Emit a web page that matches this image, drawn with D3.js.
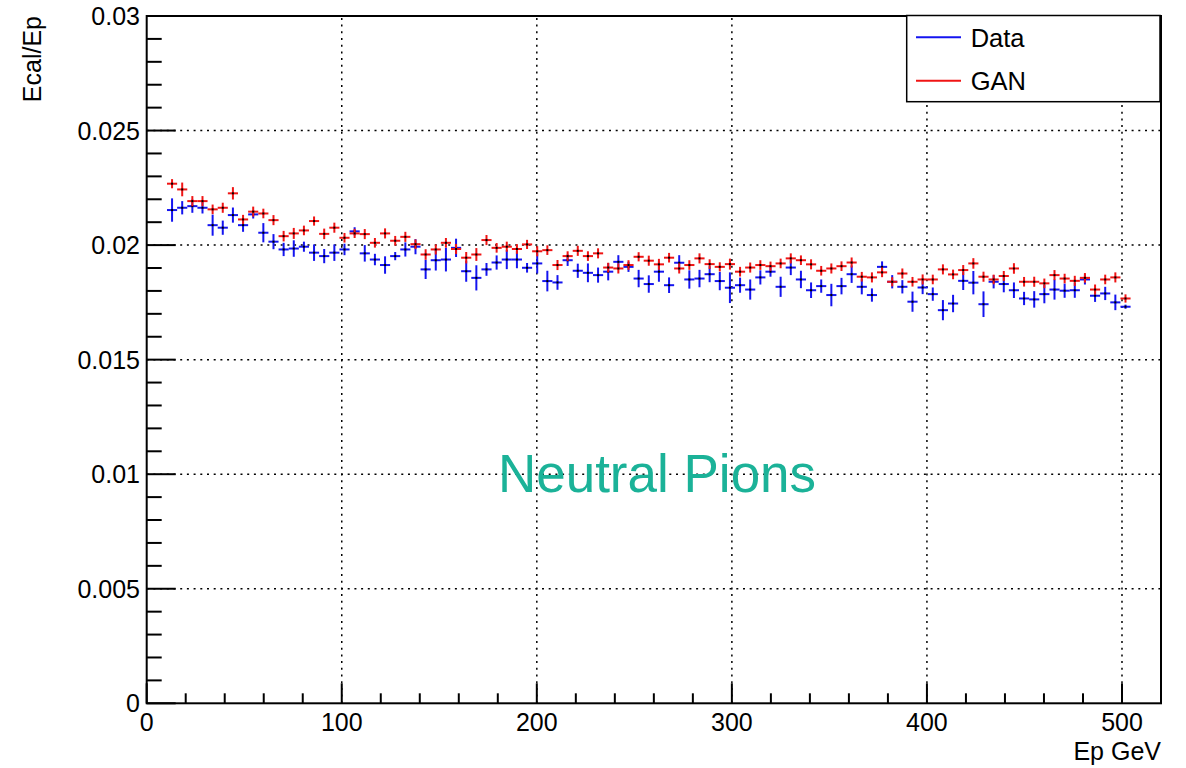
<!DOCTYPE html>
<html>
<head>
<meta charset="utf-8">
<script src="https://cdn.jsdelivr.net/npm/d3@7"></script>
<style>
html,body{margin:0;padding:0;background:#fff;}
svg{display:block;font-family:"Liberation Sans",Arial,Helvetica,sans-serif;}
</style>
</head>
<body>
<svg id="chart" width="1186" height="768"></svg>
<script>
// Bin centres (Ep, GeV)
const epValues = [13.0,18.2,23.4,28.6,33.8,39.0,44.2,49.4,54.6,59.8,
65.0,70.2,75.4,80.6,85.8,91.0,96.2,101.4,106.6,111.8,
117.0,122.2,127.4,132.6,137.8,143.0,148.2,153.4,158.6,163.8,
169.0,174.2,179.4,184.6,189.8,195.0,200.2,205.4,210.6,215.8,
221.0,226.2,231.4,236.6,241.8,247.0,252.2,257.4,262.6,267.8,
273.0,278.2,283.4,288.6,293.8,299.0,304.2,309.4,314.6,319.8,
325.0,330.2,335.4,340.6,345.8,351.0,356.2,361.4,366.6,371.8,
377.0,382.2,387.4,392.6,397.8,403.0,408.2,413.4,418.6,423.8,
429.0,434.2,439.4,444.6,449.8,455.0,460.2,465.4,470.6,475.8,
481.0,486.2,491.4,496.6,501.8];
const binHalfWidth = 2.6;

// Data (blue)
const dataValues = [0.02153,0.02163,0.02170,0.02163,0.02087,0.02076,0.02131,0.02087,0.02134,0.02054,
0.02015,0.01981,0.01985,0.01993,0.01967,0.01952,0.01967,0.01981,0.02060,0.01964,
0.01937,0.01913,0.01952,0.01981,0.01993,0.01894,0.01934,0.01937,0.01988,0.01886,
0.01857,0.01894,0.01924,0.01937,0.01937,0.01901,0.01920,0.01843,0.01837,0.01934,
0.01888,0.01879,0.01869,0.01884,0.01927,0.01905,0.01854,0.01830,0.01884,0.01825,
0.01923,0.01850,0.01854,0.01873,0.01843,0.01814,0.01825,0.01806,0.01859,0.01884,
0.01818,0.01902,0.01850,0.01803,0.01821,0.01782,0.01821,0.01873,0.01818,0.01782,
0.01905,0.01840,0.01818,0.01753,0.01815,0.01786,0.01716,0.01745,0.01844,0.01836,
0.01742,0.01840,0.01830,0.01803,0.01767,0.01763,0.01786,0.01806,0.01801,0.01803,
0.01850,0.01779,0.01789,0.01750,0.01731];
const dataErrors = [0.00051,0.00029,0.00029,0.00025,0.00046,0.00031,0.00033,0.00029,0.00018,0.00042,
0.00033,0.00029,0.00036,0.00022,0.00036,0.00031,0.00036,0.00025,0.00018,0.00036,
0.00025,0.00038,0.00018,0.00031,0.00033,0.00042,0.00045,0.00052,0.00040,0.00046,
0.00055,0.00028,0.00031,0.00042,0.00038,0.00021,0.00044,0.00045,0.00032,0.00025,
0.00031,0.00041,0.00033,0.00038,0.00029,0.00022,0.00038,0.00038,0.00044,0.00034,
0.00033,0.00040,0.00038,0.00035,0.00040,0.00067,0.00033,0.00044,0.00031,0.00022,
0.00044,0.00033,0.00038,0.00034,0.00029,0.00049,0.00036,0.00038,0.00033,0.00029,
0.00024,0.00029,0.00029,0.00044,0.00029,0.00029,0.00044,0.00038,0.00040,0.00051,
0.00056,0.00029,0.00036,0.00034,0.00029,0.00036,0.00040,0.00044,0.00031,0.00033,
0.00022,0.00027,0.00029,0.00034,0.00009];

// GAN (red)
const ganValues = [0.02268,0.02243,0.02192,0.02192,0.02156,0.02163,0.02226,0.02112,0.02146,0.02138,
0.02109,0.02039,0.02051,0.02064,0.02105,0.02049,0.02076,0.02032,0.02051,0.02048,
0.02010,0.02051,0.02019,0.02036,0.02004,0.01959,0.01981,0.02010,0.01983,0.01945,
0.01959,0.02022,0.01988,0.01993,0.01983,0.02003,0.01973,0.01978,0.01913,0.01952,
0.01975,0.01952,0.01964,0.01902,0.01898,0.01913,0.01949,0.01932,0.01916,0.01945,
0.01898,0.01913,0.01942,0.01917,0.01905,0.01917,0.01884,0.01902,0.01913,0.01908,
0.01920,0.01942,0.01934,0.01916,0.01888,0.01898,0.01908,0.01924,0.01862,0.01859,
0.01881,0.01840,0.01876,0.01840,0.01850,0.01850,0.01894,0.01872,0.01891,0.01920,
0.01862,0.01850,0.01865,0.01898,0.01840,0.01840,0.01833,0.01869,0.01854,0.01844,
0.01857,0.01806,0.01850,0.01859,0.01767];
const ganErrors = [0.00020,0.00030,0.00022,0.00022,0.00021,0.00022,0.00027,0.00020,0.00022,0.00021,
0.00022,0.00023,0.00024,0.00021,0.00020,0.00023,0.00022,0.00021,0.00020,0.00022,
0.00021,0.00022,0.00021,0.00022,0.00021,0.00023,0.00022,0.00021,0.00022,0.00025,
0.00028,0.00022,0.00021,0.00022,0.00021,0.00020,0.00022,0.00021,0.00022,0.00021,
0.00022,0.00021,0.00022,0.00021,0.00022,0.00021,0.00020,0.00022,0.00024,0.00021,
0.00022,0.00021,0.00022,0.00021,0.00020,0.00024,0.00021,0.00022,0.00021,0.00020,
0.00021,0.00022,0.00021,0.00022,0.00021,0.00022,0.00021,0.00022,0.00021,0.00022,
0.00021,0.00020,0.00022,0.00021,0.00022,0.00021,0.00022,0.00021,0.00022,0.00023,
0.00022,0.00021,0.00022,0.00023,0.00021,0.00022,0.00021,0.00022,0.00021,0.00022,
0.00021,0.00022,0.00021,0.00022,0.00018];

const xTickValues = [0,100,200,300,400,500];
const yTickValues = [0,0.005,0.01,0.015,0.02,0.025,0.03];
const yTickLabels = ["0","0.005","0.01","0.015","0.02","0.025","0.03"];
const seriesNames = ["Data","GAN"];
const seriesColors = ["#1414f0","#f01414"];
const xTitle = "Ep GeV";
const yTitle = "Ecal/Ep";
const annotation = "Neutral Pions";

const svg = d3.select("#chart");
const L = 146.7, R = 1161, T = 16, B = 703.3;
const x = d3.scaleLinear().domain([0,520]).range([L,R]);
const y = d3.scaleLinear().domain([0,0.03]).range([B,T]);

// grid
const grid = svg.append("g").attr("stroke","#000").attr("stroke-width",1.5).attr("stroke-dasharray","2,4.7");
grid.selectAll(".gx").data(xTickValues.filter(d=>d>0)).join("line")
  .attr("x1",d=>x(d)).attr("x2",d=>x(d)).attr("y1",B).attr("y2",T);
grid.selectAll(".gy").data(yTickValues.filter(d=>d>0 && d<0.03)).join("line")
  .attr("y1",d=>y(d)).attr("y2",d=>y(d)).attr("x1",L).attr("x2",R);

// axes
const xAxis = d3.axisBottom(x).tickValues(d3.range(0,521,20))
  .tickSize(0).tickFormat("");
const ax = svg.append("g").attr("transform",`translate(0,${B})`).call(xAxis);
ax.select(".domain").remove();
// x ticks (inward)
svg.append("g").selectAll("line").data(d3.range(0,521,20)).join("line")
  .attr("x1",d=>x(d)).attr("x2",d=>x(d)).attr("y1",B)
  .attr("y2",d=> d%100===0 ? B-20 : B-10)
  .attr("stroke","#000").attr("stroke-width",2);
svg.append("g").selectAll("text").data(xTickValues).join("text")
  .attr("x",d=>x(d)).attr("y",731).attr("text-anchor","middle")
  .attr("font-size",25).text(d=>d3.format("d")(d));

const yAxis = d3.axisLeft(y).tickValues(yTickValues).tickSize(0).tickFormat("");
const ay = svg.append("g").attr("transform",`translate(${L},0)`).call(yAxis);
ay.select(".domain").remove();
const yMinor = d3.range(0,31).map(i=>i*0.001);
svg.append("g").selectAll("line").data(yMinor).join("line")
  .attr("y1",d=>y(d)).attr("y2",d=>y(d)).attr("x1",L)
  .attr("x2",(d,i)=> i%5===0 ? L+29 : L+15)
  .attr("stroke","#000").attr("stroke-width",2);
svg.append("g").selectAll("text").data(yTickValues).join("text")
  .attr("x",140).attr("y",d=>y(d)+9).attr("text-anchor","end")
  .attr("font-size",25).text((d,i)=>yTickLabels[i]);

// frame
svg.append("rect").attr("x",L).attr("y",T).attr("width",R-L).attr("height",B-T)
  .attr("fill","none").attr("stroke","#000").attr("stroke-width",2);

// titles
svg.append("text").attr("x",1161).attr("y",760).attr("text-anchor","end")
  .attr("font-size",25).text(xTitle);
svg.append("text").attr("transform","translate(41,16) rotate(-90)")
  .attr("text-anchor","end").attr("font-size",25).text(yTitle);

// annotation
svg.append("text").attr("x",657).attr("y",491.5).attr("text-anchor","middle")
  .attr("font-size",53).attr("fill","#1bb298").text(annotation);

// series
function drawSeries(vals, errs, color){
  const g = svg.append("g");
  const pts = epValues.map((e,i)=>({e, v:vals[i], err:errs[i]}));
  const c = g.selectAll("g").data(pts).join("g");
  c.append("line").attr("x1",d=>x(d.e-binHalfWidth)).attr("x2",d=>x(d.e+binHalfWidth))
    .attr("y1",d=>y(d.v)).attr("y2",d=>y(d.v)).attr("stroke",color).attr("stroke-width",2);
  c.append("line").attr("x1",d=>x(d.e)).attr("x2",d=>x(d.e))
    .attr("y1",d=>y(d.v-d.err)).attr("y2",d=>y(d.v+d.err)).attr("stroke",color).attr("stroke-width",2);
  c.append("rect").attr("x",d=>x(d.e)-1).attr("y",d=>y(d.v)-1).attr("width",2).attr("height",2)
    .attr("fill","#000");
}
drawSeries(dataValues, dataErrors, seriesColors[0]);
drawSeries(ganValues, ganErrors, seriesColors[1]);

// legend
const lg = svg.append("g");
lg.append("rect").attr("x",906.7).attr("y",15.5).attr("width",1160-906.7).attr("height",101.7-15.5)
  .attr("fill","#fff").attr("stroke","#000").attr("stroke-width",1.5);
seriesNames.forEach((n,i)=>{
  const yy = [37.3,80.7][i];
  lg.append("line").attr("x1",916).attr("x2",961).attr("y1",yy).attr("y2",yy)
    .attr("stroke",seriesColors[i]).attr("stroke-width",2);
  lg.append("text").attr("x",970.7).attr("y",yy+9.3).attr("font-size",25.5).text(n);
});
</script>
</body>
</html>
